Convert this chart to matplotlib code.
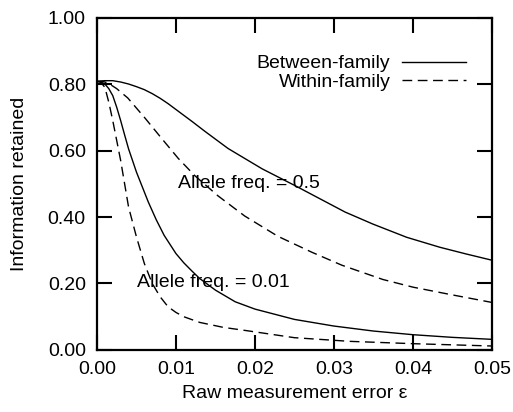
import matplotlib

matplotlib.use("Agg")
import matplotlib.pyplot as plt

plt.rcParams["font.family"] = ["Liberation Sans", "DejaVu Sans"]

# values
eps_b05 = [0.0, 0.001, 0.002, 0.003, 0.004, 0.005, 0.006, 0.007, 0.008, 0.009, 0.0103, 0.012, 0.0137, 0.0166,
           0.0209, 0.0251, 0.0314, 0.0349, 0.0392, 0.0434, 0.0467, 0.05]
info_b05 = [0.808, 0.810, 0.810, 0.806, 0.800, 0.792, 0.783, 0.771, 0.757, 0.741, 0.718, 0.688, 0.657, 0.606,
            0.545, 0.494, 0.415, 0.379, 0.339, 0.309, 0.289, 0.27]

eps_w05 = [0.0, 0.0007, 0.0014, 0.0025, 0.0039, 0.0061, 0.0082, 0.0103, 0.0124, 0.0153, 0.0187, 0.0229,
           0.0272, 0.031, 0.0362, 0.040, 0.0447, 0.05]
info_w05 = [0.808, 0.808, 0.803, 0.786, 0.758, 0.697, 0.636, 0.576, 0.524, 0.464, 0.403, 0.342,
            0.294, 0.255, 0.212, 0.189, 0.167, 0.143]

eps_b001 = [0.0, 0.0005, 0.001, 0.0015, 0.002, 0.0025, 0.003, 0.0035, 0.004, 0.005, 0.0065, 0.0075, 0.0085,
            0.010, 0.011, 0.012, 0.013, 0.015, 0.0175, 0.020, 0.025, 0.030, 0.035, 0.040, 0.045, 0.05]
info_b001 = [0.808, 0.806, 0.80, 0.786, 0.765, 0.73, 0.69, 0.647, 0.605, 0.535, 0.445, 0.392, 0.345,
             0.29, 0.262, 0.238, 0.215, 0.18, 0.145, 0.123, 0.092, 0.072, 0.057, 0.046, 0.038, 0.032]

eps_w001 = [0.0, 0.0005, 0.001, 0.0015, 0.002, 0.0025, 0.003, 0.0035, 0.004, 0.005, 0.006, 0.007, 0.008,
            0.009, 0.010, 0.011, 0.013, 0.016, 0.019, 0.025, 0.032, 0.040, 0.05]
info_w001 = [0.808, 0.805, 0.79, 0.745, 0.69, 0.63, 0.57, 0.50, 0.43, 0.34, 0.26, 0.2, 0.16,
             0.13, 0.113, 0.1, 0.083, 0.068, 0.058, 0.037, 0.026, 0.019, 0.012]

x_ticks = [0.0, 0.01, 0.02, 0.03, 0.04, 0.05]
y_ticks = [0.0, 0.2, 0.4, 0.6, 0.8, 1.0]

fig = plt.figure(figsize=(5.13, 4.12), dpi=100)
ax = fig.add_axes([0.189, 0.1505, 0.770, 0.807])

dash = (7, 4)
ax.plot(eps_b05, info_b05, color="black", lw=1.0, label="Between-family")
ax.plot(eps_w05, info_w05, color="black", lw=1.0, ls="--", dashes=dash, label="Within-family")
ax.plot(eps_b001, info_b001, color="black", lw=1.0)
ax.plot(eps_w001, info_w001, color="black", lw=1.0, ls="--", dashes=dash)

ax.text(0.01025, 0.50, "Allele freq. = 0.5", fontsize=14, va="center", ha="left")
ax.text(0.0051, 0.203, "Allele freq. = 0.01", fontsize=14, va="center", ha="left")

ax.set_xlim(0, 0.05)
ax.set_ylim(0, 1.0)
ax.set_xticks(x_ticks)
ax.set_yticks(y_ticks)
ax.set_xticklabels([f"{t:.2f}" for t in x_ticks])
ax.set_yticklabels([f"{t:.2f}" for t in y_ticks])
ax.tick_params(direction="in", length=11, width=1.5, top=True, right=True, labelsize=14)
ax.tick_params(axis="y", pad=8)
ax.tick_params(axis="x", pad=8)
for sp in ax.spines.values():
    sp.set_linewidth(1.6)

ax.set_xlabel("Raw measurement error \u03b5", fontsize=14, labelpad=5)
ax.set_ylabel("Information retained", fontsize=14, labelpad=14)

leg = ax.legend(loc="upper right", bbox_to_anchor=(0.935, 0.888), frameon=False, fontsize=14,
                markerfirst=False, handlelength=3.3, handletextpad=0.6, labelspacing=0.05,
                borderpad=0, borderaxespad=0)
for col in leg._legend_handle_box.get_children():
    col.align = "right"

fig.savefig("out.png", dpi=100)
